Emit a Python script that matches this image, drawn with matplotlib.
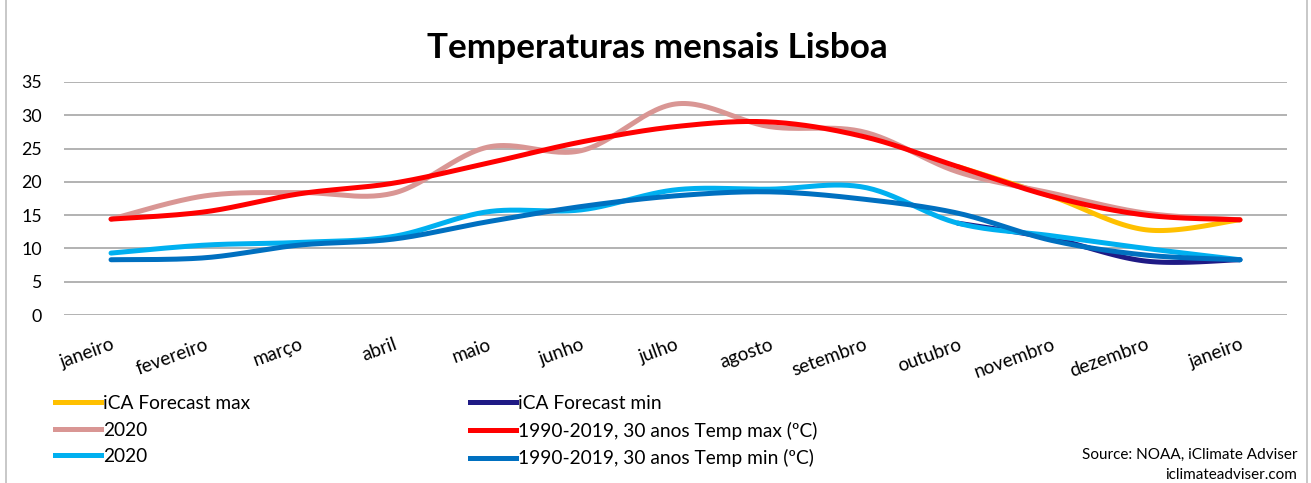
import numpy as np
import matplotlib
matplotlib.use("Agg")
import matplotlib.pyplot as plt
from matplotlib.lines import Line2D
from matplotlib.patches import Rectangle

plt.rcParams["font.family"] = ["Lato", "DejaVu Sans"]

months = ["janeiro", "fevereiro", "março", "abril", "maio", "junho", "julho",
          "agosto", "setembro", "outubro", "novembro", "dezembro", "janeiro"]

# forecast only covers the end of the year (None = no value)
fc_max = [None] * 9 + [22.3, 17.8, 12.8, 14.3]
fc_min = [None] * 9 + [13.8, 11.5, 8.1, 8.3]
max_2020 = [14.4, 17.9, 18.4, 18.3, 25.2, 24.7, 31.7, 28.3, 27.5, 21.5, 18.3, 15.3, 14.3]
max_30y = [14.4, 15.5, 18.2, 19.8, 22.8, 26.0, 28.3, 29.0, 26.8, 22.3, 17.8, 15.0, 14.3]
min_2020 = [9.3, 10.5, 10.9, 11.8, 15.5, 15.8, 18.8, 18.9, 19.2, 13.8, 11.9, 10.0, 8.3]
min_30y = [8.3, 8.6, 10.5, 11.4, 14.0, 16.3, 17.9, 18.5, 17.4, 15.3, 11.2, 9.0, 8.3]

series = [
    ("iCA Forecast max", fc_max, "#FFC000"),
    ("iCA Forecast min", fc_min, "#1F1A85"),
    ("2020", max_2020, "#D99694"),
    ("1990-2019, 30 anos Temp max (ºC)", max_30y, "#FF0000"),
    ("2020", min_2020, "#00B0F0"),
    ("1990-2019, 30 anos Temp min (ºC)", min_30y, "#0070C0"),
]


def smooth(xs, ys, n=30):
    # Excel-style smoothed line: cubic bezier through the points
    pts = np.column_stack([xs, ys]).astype(float)
    P = np.vstack([pts[0], pts, pts[-1]])
    out = []
    t = np.linspace(0, 1, n)[:, None]
    for i in range(len(pts) - 1):
        p0, p1, p2, p3 = P[i], P[i + 1], P[i + 2], P[i + 3]
        c1 = p1 + (p2 - p0) / 6
        c2 = p2 - (p3 - p1) / 6
        seg = (1 - t)**3 * p1 + 3 * (1 - t)**2 * t * c1 + 3 * (1 - t) * t**2 * c2 + t**3 * p2
        out.append(seg if i == 0 else seg[1:])
    return np.vstack(out)


W, H = 1311, 483
fig = plt.figure(figsize=(W / 100, H / 100), dpi=100)
fig.patches.append(Rectangle((6 / W, -0.01), 1301 / W, 1.1, transform=fig.transFigure,
                             fill=False, ec="#BFBFBF", lw=1.2))
ax = fig.add_axes([64 / W, 1 - 315 / H, 1223 / W, 233 / H])

handles = []
for label, vals, col in series:
    xs = [i for i, v in enumerate(vals) if v is not None]
    ys = [v for v in vals if v is not None]
    s = smooth(xs, ys)
    ax.plot(s[:, 0], s[:, 1], color=col, lw=3.6, solid_capstyle="round", clip_on=False)
    handles.append(Line2D([], [], color=col, lw=3.6, label=label))

ax.set_xlim(-0.5, len(months) - 0.5)
ax.set_ylim(0, 35)
ax.set_yticks(range(0, 36, 5))
ax.set_xticks(range(len(months)))
ax.set_xticklabels(months, rotation=20, ha="right", rotation_mode="anchor", fontsize=13.6)
ax.tick_params(axis="x", length=0, pad=15)
ax.tick_params(axis="y", length=0, pad=16, labelsize=12.8)
ax.yaxis.grid(True, color="#A6A6A6", lw=1.2)
ax.set_axisbelow(True)
for sp in ax.spines.values():
    sp.set_visible(False)

fig.text(657 / W, 1 - 48 / H, "Temperaturas mensais Lisboa", ha="center", va="center",
         fontsize=25.3, fontweight="bold")

leg_kw = dict(frameon=False, fontsize=13.8, borderpad=0, borderaxespad=0,
              handlelength=2.4, handletextpad=0.1, labelspacing=0.5, loc="upper left")
fig.legend(handles=[handles[0], handles[2], handles[4]],
           bbox_to_anchor=(55 / W, 1 - 395 / H), **leg_kw)
fig.legend(handles=[handles[1], handles[3], handles[5]],
           bbox_to_anchor=(470 / W, 1 - 395 / H), **leg_kw)

fig.text(1297 / W, 1 - 455 / H, "Source: NOAA, iClimate Adviser", ha="right", va="center", fontsize=11)
fig.text(1297 / W, 1 - 475 / H, "iclimateadviser.com", ha="right", va="center", fontsize=11)

fig.savefig("out.png", dpi=100)
